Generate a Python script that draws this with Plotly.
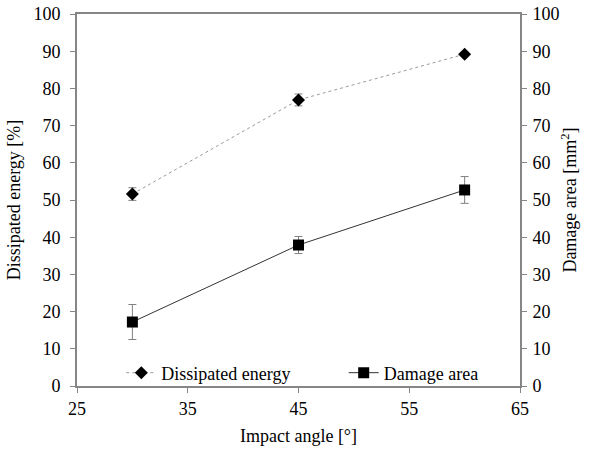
import plotly.graph_objects as go

angles = [30, 45, 60]
energy = [51.6, 76.9, 89.2]
energy_err = [1.7, 1.6, 0.5]
damage = [17.2, 37.9, 52.7]
damage_err = [4.7, 2.3, 3.6]

x_ticks = [25, 35, 45, 55, 65]
y_ticks = list(range(0, 101, 10))

font_family = "Liberation Serif"
fs = 18
axis_gray = "#868686"

fig = go.Figure()
fig.add_trace(go.Scatter(
    x=angles, y=energy, name="Dissipated energy", mode="lines+markers",
    line=dict(color="#9a9a9a", width=1, dash="dot"),
    marker=dict(symbol="diamond", size=10, color="black"),
    error_y=dict(type="data", array=energy_err, color="#808080", thickness=1, width=4),
    legend="legend",
))
fig.add_trace(go.Scatter(
    x=angles, y=damage, name="Damage area", mode="lines+markers", yaxis="y2",
    line=dict(color="#333333", width=1),
    marker=dict(symbol="square", size=11, color="black"),
    error_y=dict(type="data", array=damage_err, color="#808080", thickness=1, width=4),
    legend="legend2",
))

axis_common = dict(
    showgrid=False, zeroline=False, showline=True, linecolor=axis_gray, linewidth=2,
    ticks="outside", ticklen=5, tickcolor=axis_gray, tickwidth=1, automargin=False,
    tickfont=dict(family=font_family, size=fs, color="black"),
)

legend_common = dict(orientation="h", xanchor="left", y=0.035, yanchor="middle",
                     bgcolor="rgba(0,0,0,0)", font=dict(family=font_family, size=fs, color="black"))

fig.update_layout(
    width=591, height=451,
    margin=dict(l=77, r=71, t=14, b=65),
    paper_bgcolor="white", plot_bgcolor="white",
    font=dict(family=font_family, size=fs, color="black"),
    xaxis=dict(range=[25, 65], tickvals=x_ticks, mirror=True, ticklabelstandoff=0,
               title=dict(text="Impact angle [°]", font=dict(family=font_family, size=fs), standoff=12),
               **axis_common),
    yaxis=dict(range=[0, 100], tickvals=y_ticks, ticklabelstandoff=6,
               title=dict(text="Dissipated energy [%]", font=dict(family=font_family, size=fs), standoff=8),
               **axis_common),
    yaxis2=dict(range=[0, 100], tickvals=y_ticks, overlaying="y", side="right", ticklabelstandoff=2,
                title=dict(text="Damage area [mm<sup>2</sup>]", font=dict(family=font_family, size=fs), standoff=5),
                **axis_common),
    showlegend=True,
    legend=dict(x=0.1, **legend_common),
    legend2=dict(x=0.602, **legend_common),
)

fig.write_html("out.html")
